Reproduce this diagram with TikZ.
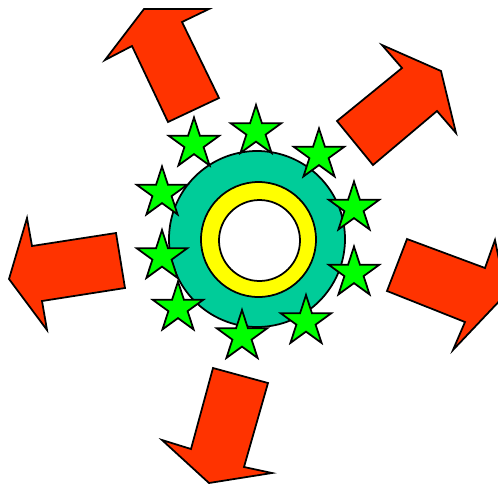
\documentclass[tikz,border=0pt]{standalone}
\usepackage{tikz}
\usetikzlibrary{shapes.geometric}
\definecolor{arrowred}{RGB}{255,51,0}
\definecolor{ringteal}{RGB}{0,204,153}
\definecolor{stargreen}{RGB}{0,255,0}
\definecolor{ringyellow}{RGB}{255,255,0}
\tikzset{
 bigarrow/.style={draw=black,fill=arrowred,line width=1pt,line join=miter},
 starbox/.style={star,star points=5,star point ratio=2.618,draw=black,fill=stargreen,
  line width=1pt,inner sep=0pt,minimum size=1.06cm,line join=miter}
}
\begin{document}
\begin{tikzpicture}[x=.02cm,y=-.02cm]
\clip (0,0) rectangle (498,485);
% outward arrows
\draw[bigarrow] (144,9)--(209,9)--(182,22)--(219,98)--(168,122)--(132,46)--(105,60)--cycle;
\draw[bigarrow] (337,121)--(402,68)--(382,45)--(441,71)--(456,133)--(437,111)--(373,165)--cycle;
\draw[bigarrow] (27,218)--(32,246)--(116,233)--(125,288)--(42,301)--(47,330)--(9,279)--cycle;
\draw[bigarrow] (407,239)--(485,268)--(495,240)--(506,294)--(453,350)--(465,322)--(387,291)--cycle;
\draw[bigarrow] (213,368)--(268,383)--(244,467)--(272,473)--(209,483)--(162,440)--(191,449)--cycle;
% rings
\draw[line width=1pt,fill=ringteal] (257,239) circle (88);
\draw[line width=1pt,fill=ringyellow] (258.5,239.5) circle (57.5);
\draw[line width=1pt,fill=white] (259.5,240.5) circle (40.5);
% stars round the ring
\foreach \x/\y [count=\i] in {194/144,256/131.5,319/155,162/193,354/208,
 162/256.5,354/273,178/308,242/336.5,306/321.5}
 \node[starbox] (star\i) at (\x,\y) {};
\end{tikzpicture}
\end{document}
